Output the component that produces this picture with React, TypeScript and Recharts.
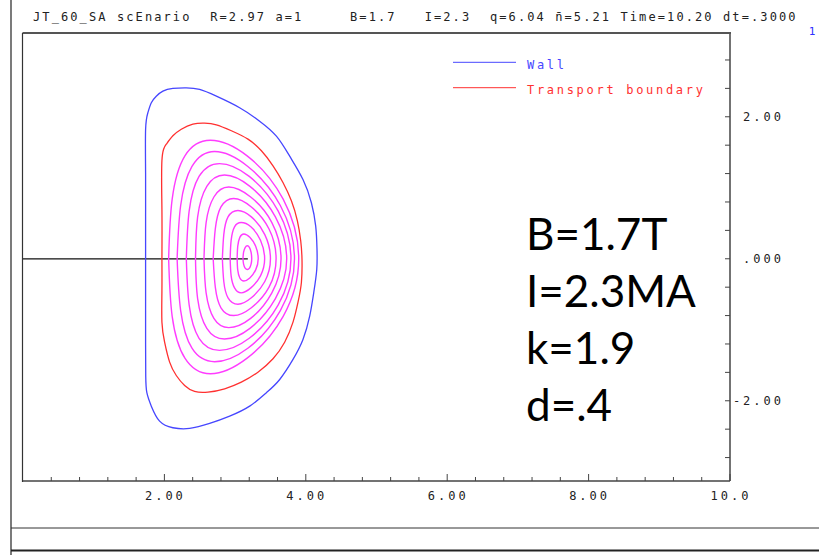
import { ComposedChart, Line, XAxis, YAxis } from 'recharts';

type Pt = { x: number; y: number };

// outer wall (blue)
const wall: Pt[] = [
  { x: 1.734, y: 0 }, { x: 1.734, y: -0.6 }, { x: 1.734, y: -1.2 }, { x: 1.736, y: -1.65 },
  { x: 1.752, y: -1.887 }, { x: 1.815, y: -2.076 }, { x: 1.932, y: -2.287 }, { x: 2.12, y: -2.38 },
  { x: 2.357, y: -2.39 }, { x: 2.64, y: -2.32 }, { x: 2.923, y: -2.217 }, { x: 3.206, y: -2.076 },
  { x: 3.442, y: -1.887 }, { x: 3.631, y: -1.7 }, { x: 3.819, y: -1.418 }, { x: 3.96, y: -1.137 },
  { x: 4.055, y: -0.808 }, { x: 4.112, y: -0.479 }, { x: 4.155, y: -0.15 }, { x: 4.158, y: 0.15 },
  { x: 4.14, y: 0.459 }, { x: 4.079, y: 0.789 }, { x: 3.96, y: 1.117 }, { x: 3.772, y: 1.445 },
  { x: 3.584, y: 1.727 }, { x: 3.347, y: 1.938 }, { x: 3.064, y: 2.127 }, { x: 2.735, y: 2.29 },
  { x: 2.498, y: 2.385 }, { x: 2.31, y: 2.408 }, { x: 2.12, y: 2.399 }, { x: 1.979, y: 2.361 },
  { x: 1.885, y: 2.29 }, { x: 1.815, y: 2.197 }, { x: 1.766, y: 2.056 }, { x: 1.734, y: 1.821 },
  { x: 1.734, y: 1.2 }, { x: 1.734, y: 0.6 }, { x: 1.734, y: 0 },
];

// transport boundary (red)
const boundary: Pt[] = [
  { x: 1.965, y: 0 }, { x: 1.965, y: -0.45 }, { x: 1.965, y: -0.893 }, { x: 2.003, y: -1.175 },
  { x: 2.074, y: -1.456 }, { x: 2.168, y: -1.644 }, { x: 2.286, y: -1.785 }, { x: 2.427, y: -1.869 },
  { x: 2.616, y: -1.879 }, { x: 2.852, y: -1.831 }, { x: 3.088, y: -1.738 }, { x: 3.323, y: -1.597 },
  { x: 3.536, y: -1.408 }, { x: 3.701, y: -1.175 }, { x: 3.819, y: -0.893 }, { x: 3.89, y: -0.611 },
  { x: 3.938, y: -0.33 }, { x: 3.946, y: 0 }, { x: 3.928, y: 0.254 }, { x: 3.881, y: 0.535 },
  { x: 3.796, y: 0.817 }, { x: 3.677, y: 1.075 }, { x: 3.536, y: 1.31 }, { x: 3.372, y: 1.521 },
  { x: 3.182, y: 1.685 }, { x: 2.947, y: 1.803 }, { x: 2.735, y: 1.887 }, { x: 2.569, y: 1.91 },
  { x: 2.403, y: 1.896 }, { x: 2.239, y: 1.825 }, { x: 2.12, y: 1.732 }, { x: 2.027, y: 1.614 },
  { x: 1.965, y: 1.385 }, { x: 1.965, y: 0.694 }, { x: 1.965, y: 0 },
];

// flux surfaces (magenta), outermost first
const flux1: Pt[] = [
  { x: 2.06, y: 0 }, { x: 2.11, y: -0.81 }, { x: 2.29, y: -1.4 }, { x: 2.65, y: -1.62 },
  { x: 3.17, y: -1.4 }, { x: 3.68, y: -0.81 }, { x: 3.9, y: 0 }, { x: 3.68, y: 0.84 },
  { x: 3.17, y: 1.45 }, { x: 2.65, y: 1.67 }, { x: 2.29, y: 1.45 }, { x: 2.11, y: 0.84 }, { x: 2.06, y: 0 },
];
const flux2: Pt[] = [
  { x: 2.18, y: 0 }, { x: 2.23, y: -0.73 }, { x: 2.39, y: -1.26 }, { x: 2.71, y: -1.45 },
  { x: 3.18, y: -1.26 }, { x: 3.64, y: -0.73 }, { x: 3.84, y: 0 }, { x: 3.64, y: 0.75 },
  { x: 3.18, y: 1.3 }, { x: 2.71, y: 1.51 }, { x: 2.39, y: 1.3 }, { x: 2.23, y: 0.75 }, { x: 2.18, y: 0 },
];
const flux3: Pt[] = [
  { x: 2.31, y: 0 }, { x: 2.35, y: -0.65 }, { x: 2.49, y: -1.12 }, { x: 2.78, y: -1.29 },
  { x: 3.2, y: -1.12 }, { x: 3.61, y: -0.65 }, { x: 3.79, y: 0 }, { x: 3.61, y: 0.67 },
  { x: 3.2, y: 1.16 }, { x: 2.78, y: 1.34 }, { x: 2.49, y: 1.16 }, { x: 2.35, y: 0.67 }, { x: 2.31, y: 0 },
];
const flux4: Pt[] = [
  { x: 2.44, y: 0 }, { x: 2.47, y: -0.56 }, { x: 2.6, y: -0.98 }, { x: 2.85, y: -1.13 },
  { x: 3.21, y: -0.98 }, { x: 3.57, y: -0.56 }, { x: 3.73, y: 0 }, { x: 3.57, y: 0.59 },
  { x: 3.21, y: 1.02 }, { x: 2.85, y: 1.18 }, { x: 2.6, y: 1.02 }, { x: 2.47, y: 0.59 }, { x: 2.44, y: 0 },
];
const flux5: Pt[] = [
  { x: 2.56, y: 0 }, { x: 2.59, y: -0.48 }, { x: 2.7, y: -0.84 }, { x: 2.91, y: -0.97 },
  { x: 3.22, y: -0.84 }, { x: 3.52, y: -0.48 }, { x: 3.65, y: 0 }, { x: 3.52, y: 0.51 },
  { x: 3.22, y: 0.87 }, { x: 2.91, y: 1.01 }, { x: 2.7, y: 0.87 }, { x: 2.59, y: 0.51 }, { x: 2.56, y: 0 },
];
const flux6: Pt[] = [
  { x: 2.69, y: 0 }, { x: 2.72, y: -0.4 }, { x: 2.8, y: -0.69 }, { x: 2.98, y: -0.8 },
  { x: 3.23, y: -0.69 }, { x: 3.48, y: -0.4 }, { x: 3.58, y: 0 }, { x: 3.48, y: 0.42 },
  { x: 3.23, y: 0.73 }, { x: 2.98, y: 0.85 }, { x: 2.8, y: 0.73 }, { x: 2.72, y: 0.42 }, { x: 2.69, y: 0 },
];
const flux7: Pt[] = [
  { x: 2.82, y: 0 }, { x: 2.84, y: -0.32 }, { x: 2.9, y: -0.55 }, { x: 3.04, y: -0.64 },
  { x: 3.23, y: -0.55 }, { x: 3.42, y: -0.32 }, { x: 3.5, y: 0 }, { x: 3.42, y: 0.34 },
  { x: 3.23, y: 0.59 }, { x: 3.04, y: 0.68 }, { x: 2.9, y: 0.59 }, { x: 2.84, y: 0.34 }, { x: 2.82, y: 0 },
];
const flux8: Pt[] = [
  { x: 2.93, y: 0 }, { x: 2.944, y: -0.24 }, { x: 2.992, y: -0.41 }, { x: 3.086, y: -0.48 },
  { x: 3.223, y: -0.41 }, { x: 3.359, y: -0.24 }, { x: 3.418, y: 0 }, { x: 3.359, y: 0.26 },
  { x: 3.223, y: 0.45 }, { x: 3.086, y: 0.51 }, { x: 2.992, y: 0.45 }, { x: 2.944, y: 0.26 }, { x: 2.93, y: 0 },
];
const flux9: Pt[] = [
  { x: 3.029, y: 0 }, { x: 3.037, y: -0.157 }, { x: 3.067, y: -0.271 }, { x: 3.124, y: -0.313 },
  { x: 3.208, y: -0.271 }, { x: 3.291, y: -0.157 }, { x: 3.327, y: 0 }, { x: 3.291, y: 0.175 },
  { x: 3.208, y: 0.302 }, { x: 3.124, y: 0.349 }, { x: 3.067, y: 0.302 }, { x: 3.037, y: 0.175 }, { x: 3.029, y: 0 },
];
const flux10: Pt[] = [
  { x: 3.111, y: 0 }, { x: 3.12, y: -0.076 }, { x: 3.142, y: -0.131 }, { x: 3.173, y: -0.151 },
  { x: 3.204, y: -0.131 }, { x: 3.226, y: -0.076 }, { x: 3.235, y: 0 }, { x: 3.226, y: 0.092 },
  { x: 3.204, y: 0.158 }, { x: 3.173, y: 0.183 }, { x: 3.142, y: 0.158 }, { x: 3.12, y: 0.092 }, { x: 3.111, y: 0 },
];
const fluxSurfaces = [flux1, flux2, flux3, flux4, flux5, flux6, flux7, flux8, flux9, flux10];

// major radius ray out to the magnetic axis
const axisRay: Pt[] = [{ x: 0, y: 0 }, { x: 3.18, y: 0 }];

const xTicks = [0.4, 0.8, 1.2, 1.6, 2, 2.4, 2.8, 3.2, 3.6, 4, 4.4, 4.8, 5.2, 5.6, 6, 6.4, 6.8, 7.2, 7.6, 8, 8.4, 8.8, 9.2, 9.6, 10];
const xLabels: Record<string, string> = { '2': '2.00', '4': '4.00', '6': '6.00', '8': '8.00', '10': '10.0' };
const yTicks = [-2.8, -2.4, -2, -1.6, -1.2, -0.8, -0.4, 0, 0.4, 0.8, 1.2, 1.6, 2, 2.4, 2.8];
const yLabels: Record<string, string> = { '2': '2.00', '0': '.000', '-2': '-2.00' };

const title = 'JT_60_SA scEnario  R=2.97 a=1     B=1.7   I=2.3  q=6.04 n\u0304=5.21 Time=10.20 dt=.3000';
const legendItems = [
  { name: 'Wall', color: '#4646ff' },
  { name: 'Transport boundary', color: '#ff3030' },
];
const notes = ['B=1.7T', 'I=2.3MA', 'k=1.9', 'd=.4'];

const MONO = '"DejaVu Sans Mono", monospace';
const AXIS = '#444';

const XTick = (props: any) => {
  const { x, y, payload } = props;
  const label = xLabels[String(payload.value)];
  return (
    <g>
      <line x1={x} x2={x} y1={y} y2={y - (label ? 7 : 4)} stroke={AXIS} strokeWidth={1} />
      {label && (
        <text x={x + 1} y={y + 18.5} textAnchor="middle" fontFamily={MONO} fontSize={12} letterSpacing={3} fill="#222">
          {label}
        </text>
      )}
    </g>
  );
};

const YTick = (props: any) => {
  const { x, y, payload } = props;
  const label = yLabels[String(payload.value)];
  return (
    <g>
      <line x1={x - 5} x2={x} y1={y} y2={y} stroke={AXIS} strokeWidth={1} />
      {label && (
        <text x={x + 54} y={y + 4.4} textAnchor="end" fontFamily={MONO} fontSize={12} letterSpacing={3} fill="#222">
          {label}
        </text>
      )}
    </g>
  );
};

export default function App() {
  return (
    <div style={{ position: 'absolute', left: 0, top: 0, width: 819, height: 555, background: '#fff' }}>
      <ComposedChart width={819} height={555} margin={{ left: 23, right: 29, top: 33, bottom: 44 }}>
        <XAxis xAxisId="x" dataKey="x" type="number" domain={[0, 10]} ticks={xTicks} interval={0}
          orientation="bottom" height={30} tickSize={0} tickMargin={0} tickLine={false}
          axisLine={{ stroke: AXIS, strokeWidth: 1.5 }} tick={<XTick />} allowDataOverflow />
        <YAxis yAxisId="y" type="number" domain={[-3.13, 3.18]} ticks={yTicks} interval={0}
          orientation="right" width={60} tickSize={0} tickMargin={0} tickLine={false}
          axisLine={{ stroke: AXIS, strokeWidth: 1.5 }} tick={<YTick />} allowDataOverflow />
        <Line xAxisId="x" yAxisId="y" data={axisRay} dataKey="y" type="linear" stroke="#111" strokeWidth={1.3}
          dot={false} activeDot={false} isAnimationActive={false} />
        {fluxSurfaces.map((s, i) => (
          <Line key={i} xAxisId="x" yAxisId="y" data={s} dataKey="y" type="natural" stroke="#ff3cff"
            strokeWidth={1.4} dot={false} activeDot={false} isAnimationActive={false} />
        ))}
        <Line xAxisId="x" yAxisId="y" data={boundary} dataKey="y" type="natural" stroke={legendItems[1].color}
          strokeWidth={1.3} dot={false} activeDot={false} isAnimationActive={false} />
        <Line xAxisId="x" yAxisId="y" data={wall} dataKey="y" type="natural" stroke={legendItems[0].color}
          strokeWidth={1.3} dot={false} activeDot={false} isAnimationActive={false} />
      </ComposedChart>
      <svg width={819} height={555} style={{ position: 'absolute', left: 0, top: 0, pointerEvents: 'none' }}>
        {/* plot box: top and left edges */}
        <line x1={22.5} x2={731} y1={33} y2={33} stroke="#555" strokeWidth={2} />
        <line x1={22.5} x2={22.5} y1={33} y2={482} stroke="#333" strokeWidth={1.2} />
        {/* page frame */}
        <line x1={11} x2={11} y1={0} y2={555} stroke="#222" strokeWidth={1.2} />
        <line x1={11} x2={819} y1={528} y2={528} stroke="#333" strokeWidth={1} />
        <line x1={11} x2={819} y1={550.5} y2={550.5} stroke="#222" strokeWidth={2} />
        <text x={33} y={21} fontFamily={MONO} fontSize={12} letterSpacing={2.1} fill="#222" style={{ whiteSpace: 'pre' }}>
          {title}
        </text>
        <text x={812} y={35} textAnchor="middle" fontFamily={MONO} fontSize={11} fill="#3030ff">1</text>
        {legendItems.map((it, i) => (
          <g key={it.name}>
            <line x1={453} x2={516} y1={62.3 + i * 25.4} y2={62.3 + i * 25.4} stroke={it.color} strokeWidth={1} />
            <text x={527} y={68.7 + i * 25.4} fontFamily={MONO} fontSize={12} letterSpacing={2.7} fill={it.color}>
              {it.name}
            </text>
          </g>
        ))}
        {notes.map((t, i) => (
          <text key={t} x={526} y={250 + i * 57} fontFamily="Lato, sans-serif" fontSize={44} fill="#000">
            {t}
          </text>
        ))}
      </svg>
    </div>
  );
}
